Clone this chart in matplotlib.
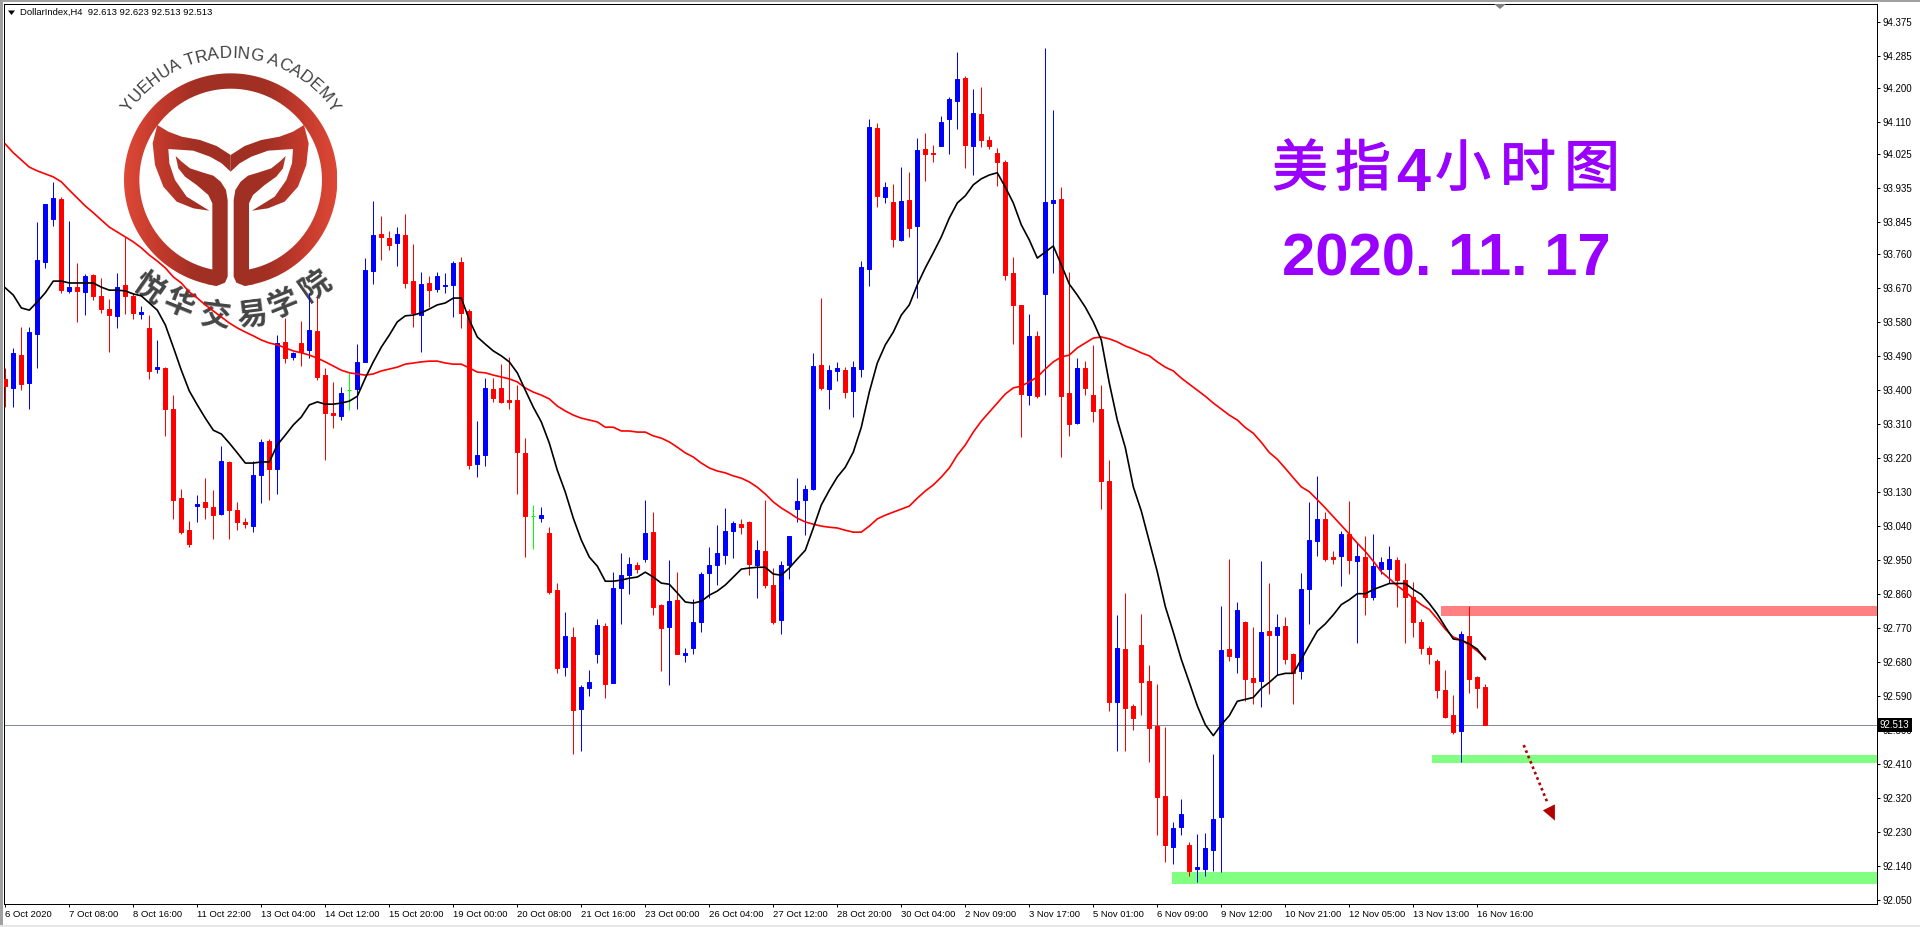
import numpy as np
import matplotlib
matplotlib.use('Agg')
import matplotlib.pyplot as plt
import matplotlib.patheffects as pe
from matplotlib.colors import LinearSegmentedColormap
from matplotlib.patches import Polygon, Rectangle
from matplotlib.path import Path
from matplotlib.transforms import Affine2D

# H4 candles
opens = [
    93.430,93.406,93.493,93.419,93.549,93.740,93.854,93.907,93.663,93.673,
    93.660,93.705,93.650,93.615,93.597,93.679,93.650,93.602,93.565,93.456,
    93.459,93.350,93.114,93.029,93.093,93.104,93.090,93.072,93.210,93.082,
    93.051,93.040,93.175,93.265,93.191,93.528,93.488,93.525,93.506,93.557,
    93.440,93.340,93.332,93.400,93.403,93.475,93.716,93.814,93.803,93.790,
    93.811,93.689,93.599,93.684,93.668,93.676,93.679,93.740,93.610,93.204,
    93.228,93.403,93.406,93.374,93.374,93.234,93.067,93.061,93.022,92.870,
    92.666,92.746,92.555,92.611,92.701,92.775,92.624,92.876,92.910,92.937,
    92.953,93.024,92.831,92.772,92.844,92.698,92.717,92.786,92.916,92.937,
    92.963,93.027,93.045,93.051,92.937,92.974,92.884,92.791,92.937,93.085,
    93.109,93.138,93.467,93.403,93.451,93.453,93.398,93.456,93.721,94.095,
    93.912,93.899,93.798,93.904,93.835,94.039,94.029,94.047,94.119,94.166,
    94.227,94.047,94.132,94.063,94.029,94.005,93.711,93.626,93.387,93.544,
    93.655,93.896,93.907,93.393,93.313,93.459,93.387,93.350,93.160,92.573,
    92.714,92.564,92.725,92.629,92.511,92.325,92.190,92.244,92.194,92.132,
    92.132,92.182,92.269,92.714,92.693,92.786,92.637,92.629,92.762,92.752,
    92.775,92.701,92.655,92.874,93.000,93.058,92.958,92.960,93.019,92.947,
    92.958,92.853,92.927,92.927,92.950,92.896,92.851,92.786,92.717,92.682,
    92.607,92.540,92.498,92.749,92.639,92.613]
closes = [
    93.411,93.499,93.416,93.554,93.745,93.893,93.909,93.665,93.673,93.663,
    93.703,93.650,93.615,93.599,93.673,93.650,93.605,93.607,93.451,93.461,
    93.350,93.109,93.024,92.992,93.098,93.090,93.069,93.212,93.082,93.051,
    93.045,93.175,93.263,93.191,93.525,93.485,93.499,93.501,93.559,93.435,
    93.340,93.334,93.393,93.400,93.475,93.718,93.811,93.806,93.785,93.814,
    93.684,93.605,93.681,93.665,93.703,93.679,93.737,93.605,93.202,93.228,
    93.406,93.379,93.369,93.369,93.236,93.067,93.067,93.069,92.865,92.664,
    92.749,92.552,92.613,92.627,92.778,92.621,92.876,92.910,92.939,92.926,
    93.022,92.825,92.770,92.841,92.701,92.704,92.786,92.913,92.937,92.969,
    93.027,93.048,93.037,92.939,92.976,92.884,92.786,92.937,93.014,93.106,
    93.138,93.464,93.406,93.453,93.459,93.395,93.461,93.726,94.097,93.915,
    93.938,93.801,93.901,93.830,94.036,94.026,94.026,94.111,94.172,94.225,
    94.050,94.135,94.063,94.047,94.005,93.705,93.626,93.390,93.544,93.384,
    93.899,93.904,93.384,93.310,93.459,93.406,93.345,93.160,92.573,92.717,
    92.559,92.532,92.626,92.506,92.322,92.194,92.241,92.278,92.126,92.137,
    92.187,92.263,92.712,92.696,92.819,92.634,92.626,92.759,92.752,92.773,
    92.687,92.650,92.874,93.003,93.058,92.952,92.952,93.019,92.950,92.960,
    92.851,92.935,92.944,92.952,92.896,92.851,92.786,92.717,92.701,92.607,
    92.535,92.495,92.754,92.634,92.610,92.513]
highs = [
    93.459,93.512,93.567,93.567,93.846,93.893,93.952,93.912,93.848,93.737,
    93.708,93.708,93.697,93.642,93.711,93.806,93.658,93.623,93.599,93.533,
    93.461,93.387,93.138,93.053,93.122,93.167,93.135,93.252,93.212,93.104,
    93.061,93.212,93.271,93.271,93.546,93.591,93.501,93.583,93.658,93.647,
    93.459,93.422,93.408,93.446,93.522,93.750,93.901,93.862,93.822,93.832,
    93.867,93.787,93.713,93.703,93.713,93.711,93.742,93.753,93.615,93.318,
    93.432,93.432,93.469,93.488,93.414,93.273,93.096,93.090,93.037,92.889,
    92.812,92.772,92.619,92.658,92.794,92.783,92.918,92.969,92.958,92.945,
    93.109,93.077,92.833,92.950,92.918,92.717,92.847,92.918,92.984,93.043,
    93.088,93.053,93.059,93.053,93.003,93.109,92.929,92.947,93.014,93.167,
    93.149,93.499,93.644,93.467,93.475,93.461,93.477,93.742,94.119,94.108,
    93.952,93.946,93.991,93.978,94.068,94.082,94.050,94.127,94.177,94.296,
    94.233,94.198,94.203,94.074,94.042,94.010,93.753,93.626,93.602,93.557,
    94.307,94.142,93.938,93.713,93.485,93.477,93.520,93.414,93.214,92.805,
    92.864,92.568,92.807,92.671,92.623,92.508,92.257,92.317,92.202,92.225,
    92.228,92.436,92.829,92.952,92.840,92.789,92.773,92.947,92.890,92.807,
    92.799,92.704,92.917,93.104,93.173,93.078,92.973,93.026,93.107,92.997,
    93.013,93.019,92.958,92.987,92.958,92.942,92.893,92.794,92.722,92.687,
    92.658,92.592,92.762,92.829,92.642,92.623]
lows = [
    93.355,93.355,93.400,93.350,93.459,93.724,93.835,93.658,93.658,93.581,
    93.599,93.639,93.605,93.501,93.565,93.602,93.589,93.589,93.430,93.446,
    93.279,93.059,93.019,92.984,93.051,93.059,93.006,93.069,93.006,93.029,
    93.035,93.024,93.101,93.109,93.125,93.472,93.480,93.464,93.485,93.427,
    93.215,93.300,93.321,93.347,93.350,93.475,93.681,93.745,93.771,93.729,
    93.671,93.567,93.501,93.620,93.660,93.658,93.594,93.565,93.191,93.170,
    93.199,93.369,93.366,93.350,93.125,92.958,92.979,93.051,92.860,92.651,
    92.643,92.436,92.444,92.590,92.677,92.584,92.624,92.780,92.860,92.916,
    92.945,92.804,92.656,92.619,92.701,92.680,92.701,92.759,92.849,92.884,
    92.939,92.955,93.019,92.910,92.849,92.876,92.780,92.754,92.900,93.051,
    93.016,93.135,93.400,93.350,93.424,93.379,93.329,93.435,93.676,93.885,
    93.896,93.779,93.795,93.806,93.644,93.954,94.005,94.047,94.026,94.092,
    93.989,93.970,94.044,94.039,93.941,93.692,93.522,93.276,93.361,93.379,
    93.387,93.711,93.223,93.279,93.310,93.387,93.316,93.086,92.551,92.445,
    92.445,92.500,92.540,92.415,92.223,92.150,92.145,92.223,92.113,92.097,
    92.113,92.126,92.124,92.684,92.650,92.576,92.570,92.561,92.594,92.645,
    92.674,92.570,92.634,92.781,92.960,92.947,92.939,92.882,92.914,92.730,
    92.805,92.845,92.914,92.888,92.827,92.730,92.746,92.701,92.676,92.584,
    92.532,92.490,92.415,92.599,92.557,92.513]

# moving averages
ma_fast = [
    93.671,93.652,93.618,93.612,93.634,93.658,93.689,93.689,93.684,93.684,
    93.684,93.684,93.673,93.665,93.665,93.663,93.655,93.650,93.631,93.612,
    93.573,93.514,93.453,93.398,93.361,93.326,93.294,93.284,93.260,93.234,
    93.207,93.207,93.210,93.210,93.255,93.281,93.308,93.329,93.361,93.369,
    93.363,93.363,93.366,93.371,93.384,93.432,93.475,93.514,93.546,93.581,
    93.597,93.599,93.605,93.615,93.626,93.631,93.644,93.644,93.586,93.541,
    93.522,93.504,93.491,93.475,93.446,93.400,93.355,93.316,93.260,93.188,
    93.130,93.061,93.003,92.958,92.934,92.894,92.894,92.897,92.902,92.905,
    92.918,92.905,92.889,92.886,92.863,92.839,92.836,92.841,92.857,92.868,
    92.884,92.905,92.926,92.929,92.931,92.931,92.913,92.910,92.929,92.953,
    92.976,93.035,93.096,93.135,93.170,93.196,93.236,93.302,93.395,93.472,
    93.520,93.554,93.599,93.626,93.679,93.724,93.764,93.806,93.856,93.896,
    93.915,93.944,93.960,93.970,93.976,93.938,93.896,93.838,93.798,93.750,
    93.766,93.782,93.732,93.681,93.652,93.620,93.581,93.533,93.419,93.321,
    93.248,93.144,93.080,93.000,92.919,92.827,92.759,92.687,92.626,92.564,
    92.514,92.485,92.514,92.538,92.576,92.581,92.586,92.610,92.626,92.645,
    92.650,92.650,92.687,92.725,92.762,92.781,92.805,92.832,92.845,92.861,
    92.861,92.872,92.880,92.888,92.888,92.888,92.872,92.859,92.835,92.807,
    92.773,92.741,92.738,92.728,92.714,92.687]
ma_slow = [
    94.052,94.029,94.010,93.991,93.981,93.973,93.965,93.952,93.930,93.909,
    93.888,93.870,93.851,93.832,93.819,93.806,93.793,93.777,93.758,93.742,
    93.724,93.700,93.684,93.660,93.644,93.626,93.610,93.594,93.578,93.565,
    93.554,93.544,93.533,93.525,93.520,93.512,93.504,93.499,93.493,93.485,
    93.475,93.464,93.453,93.446,93.443,93.440,93.443,93.451,93.456,93.461,
    93.469,93.472,93.475,93.477,93.477,93.472,93.469,93.469,93.459,93.448,
    93.446,93.440,93.435,93.430,93.422,93.406,93.395,93.387,93.377,93.358,
    93.345,93.334,93.326,93.321,93.316,93.302,93.302,93.292,93.292,93.289,
    93.289,93.279,93.273,93.263,93.249,93.234,93.223,93.207,93.194,93.186,
    93.181,93.173,93.167,93.157,93.143,93.125,93.104,93.088,93.075,93.061,
    93.051,93.045,93.040,93.037,93.035,93.029,93.024,93.024,93.040,93.059,
    93.069,93.077,93.085,93.093,93.114,93.133,93.149,93.170,93.194,93.228,
    93.255,93.289,93.318,93.342,93.366,93.390,93.406,93.411,93.422,93.435,
    93.456,93.475,93.488,93.493,93.512,93.525,93.538,93.541,93.536,93.528,
    93.517,93.509,93.499,93.491,93.475,93.461,93.451,93.432,93.416,93.400,
    93.384,93.366,93.350,93.334,93.321,93.301,93.286,93.262,93.235,93.217,
    93.193,93.168,93.144,93.131,93.110,93.088,93.065,93.042,93.019,92.995,
    92.973,92.947,92.919,92.901,92.882,92.866,92.848,92.832,92.819,92.794,
    92.767,92.746,92.738,92.725,92.709,92.691]

y_ticks = [94.375,94.285,94.200,94.110,94.025,93.935,93.845,93.760,93.670,93.580,
           93.490,93.400,93.310,93.220,93.130,93.040,92.950,92.860,92.770,92.680,
           92.590,92.500,92.410,92.320,92.230,92.140,92.050]
x_labels = ['6 Oct 2020','7 Oct 08:00','8 Oct 16:00','11 Oct 22:00','13 Oct 04:00','14 Oct 12:00',
            '15 Oct 20:00','19 Oct 00:00','20 Oct 08:00','21 Oct 16:00','23 Oct 00:00','26 Oct 04:00',
            '27 Oct 12:00','28 Oct 20:00','30 Oct 04:00','2 Nov 09:00','3 Nov 17:00','5 Nov 01:00',
            '6 Nov 09:00','9 Nov 12:00','10 Nov 21:00','12 Nov 05:00','13 Nov 13:00','16 Nov 16:00']
last_price = 92.513
# support / resistance boxes: first bar, low, high
zone_pink = (179.5, 92.802, 92.829)
zone_green1 = (178.3, 92.412, 92.433)
zone_green2 = (145.8, 92.091, 92.124)

W, H = 1920, 927
fig = plt.figure(figsize=(W/100, H/100), dpi=100, facecolor='white')
ax = fig.add_axes([4/W, 1-904/H, 1873/W, 900/H])
# reference pixels (y down) for the logo and window decorations
px = Affine2D().scale(1, -1).translate(0, H)
FONT = 'Liberation Sans'
CJK = ['Noto Sans CJK SC', 'DejaVu Sans']

# logo
def crop(pts):
    return [(x/3, y/3) for x, y in pts]

def mirror(pts):
    return [((2*692-x)/3, y/3) for x, y in pts]

cx, cy, R, r = 692, 540, 320, 274
t_out = np.radians(np.linspace(7.5, 352.5, 180))
t_in = np.radians(np.linspace(348.4, 11.6, 180))
ring = list(zip(cx-R*np.sin(t_out), cy+R*np.cos(t_out))) + list(zip(cx-r*np.sin(t_in), cy+r*np.cos(t_in)))
stem = [(527,468),(545,485),(570,505),(610,518),(640,527),(662,545),(678,570),(683,600),(683,830),
        (675,848),(650,858),(620,852),(637,808),(637,610),(625,585),(590,555),(555,530),(535,505)]
leaf = [(472,375),(505,395),(545,410),(600,420),(650,438),(692,465),(692,515),(665,490),(630,470),
        (580,452),(505,447),(508,490),(525,540),(560,590),(628,632),(580,625),(530,605),(490,560),
        (465,495),(458,430)]
logo_cmap = LinearSegmentedColormap.from_list('logo', ['#a03023', '#a23024', '#c23a2c', '#de4836'])
grad = np.abs(np.linspace(-1, 1, 256)).reshape(1, -1)
for shape in [crop(ring), crop(stem), mirror(stem), crop(leaf), mirror(leaf)]:
    im = ax.imshow(grad, extent=(124, 337, 286, 73), cmap=logo_cmap, aspect='auto', transform=px, zorder=1)
    im.set_clip_path(Path(shape + [shape[0]]), transform=px)

# english text on the arc
arc_text = 'YUEHUA TRADING ACADEMY'
adv = {'Y':.667,'U':.722,'E':.667,'H':.722,'A':.667,' ':.278,'T':.611,'R':.722,'D':.722,'I':.278,
       'N':.722,'G':.778,'C':.722,'M':.833}
arc_px = 17.0
arc_r = 122.0
total = sum(adv[c] for c in arc_text)*arc_px
pos = -total/2
for c in arc_text:
    w = adv[c]*arc_px
    a = (pos+w/2)/arc_r
    ax.text(230.5+arc_r*np.sin(a), 180-arc_r*np.cos(a), c, transform=px, family=FONT, fontsize=arc_px*0.72,
            color='#404040', rotation=-np.degrees(a), rotation_mode='anchor', ha='center', va='baseline', zorder=1)
    pos += w

logo_chars = ['悦', '华', '交', '易', '学', '院']
logo_char_x = [149, 179, 215, 252, 283, 315]
logo_char_y = [288, 304, 316, 316, 304, 285]
logo_char_rot = [-35, -22, -7, 7, 22, 35]
for c, x, y, rot in zip(logo_chars, logo_char_x, logo_char_y, logo_char_rot):
    ax.text(x, y, c, transform=px, family=CJK, fontsize=22, fontweight='bold', color='#454545',
            rotation=rot, rotation_mode='anchor', ha='center', va='center', zorder=1)

# zones
xlim = ((4-5.3)/8, (1877-5.3)/8)
for (start, lo, hi), col in zip([zone_pink, zone_green1, zone_green2], ['#ff8080', '#80ff80', '#80ff80']):
    ax.add_patch(Rectangle((start, lo), xlim[1]-start, hi-lo, facecolor=col, edgecolor='none', zorder=0.5))

ax.axhline(last_price, color='#808a99', lw=0.72, zorder=1.5)

# candles
n = len(opens)
xs = np.arange(n)
o = np.array(opens)
c = np.array(closes)
colors = np.where(c > o, '#0000ff', np.where(c < o, '#ff0000', '#00ff00'))
ax.vlines(xs, lows, highs, colors=colors, lw=0.72, zorder=3)
ax.bar(xs, c-o, bottom=o, width=0.5, color=colors, edgecolor=colors, linewidth=0.72, zorder=3)

ax.plot(xs, ma_slow, color='#ff0000', lw=1.2, zorder=4)
ax.plot(xs, ma_fast, color='#000000', lw=1.2, zorder=5)

# dotted down arrow
arrow_x = [189.8, 192.8]
arrow_y = [92.460, 92.306]
ax.plot(arrow_x, arrow_y, color='#b30000', lw=1.9, linestyle=(0, (1, 1.2)), zorder=4)
ax.add_patch(Polygon([(193.7, 92.260), (192.2, 92.287), (193.7, 92.303)], closed=True, facecolor='#b30000',
                     edgecolor='none', zorder=4))

ax.set_xlim(xlim)
ax.set_ylim(92.039, 94.423)

ax.yaxis.tick_right()
ax.set_yticks(y_ticks)
ax.set_yticklabels(['%.3f' % v for v in y_ticks], family=FONT)
ax.set_xticks(np.arange(0, 8*len(x_labels), 8))
ax.set_xticklabels(x_labels, family=FONT, ha='left')
ax.tick_params(axis='y', length=2, width=0.72, labelsize=7, pad=2)
ax.tick_params(axis='x', length=2, width=0.72, labelsize=6.8, pad=2)
for s in ax.spines.values():
    s.set_linewidth(0.72)
    s.set_color('black')

# current price box
ax.text(1.0015, last_price, '%.3f' % last_price, transform=ax.get_yaxis_transform(), color='white', family=FONT,
        fontsize=7, va='center', ha='left', clip_on=False, zorder=20,
        bbox=dict(boxstyle='square,pad=0.25', facecolor='black', edgecolor='black', linewidth=0))

# title words
title_chars = ['美', '指', '小', '时', '图']
title_x = [1300, 1363, 1463, 1528, 1592]
stroke = [pe.withStroke(linewidth=0.9, foreground='#9900ff')]
for ch, x in zip(title_chars, title_x):
    ax.text(x, 170, ch, transform=px, family=CJK, fontsize=40, color='#9900ff', ha='center', va='center',
            zorder=6, path_effects=stroke)
ax.text(1413, 191, '4', transform=px, family=FONT, fontsize=44, fontweight='bold', color='#9900ff',
        ha='center', va='baseline', zorder=6)
ax.text(1446, 275, '2020. 11. 17', transform=px, family=FONT, fontsize=43, fontweight='bold', color='#9900ff',
        ha='center', va='baseline', zorder=6)

# chart header
ax.text(20, 12.5, 'DollarIndex,H4  92.613 92.623 92.513 92.513', transform=px, family=FONT, fontsize=6.8,
        color='black', ha='left', va='center', zorder=6)
ax.add_patch(Polygon([(8, 10.5), (15, 10.5), (11.5, 15)], closed=True, transform=px, facecolor='black',
                     edgecolor='none', zorder=6))
ax.add_patch(Polygon([(1494, 4), (1506, 4), (1500, 9)], closed=True, transform=px, facecolor='#808080',
                     edgecolor='none', zorder=6))

# window edges
for rect, col in [((0, 0, W, 2), '#a0a0a0'), ((0, 0, 3, H), '#a0a0a0'), ((0, 925, W, 2), '#e6e6e6')]:
    fig.add_artist(Rectangle((rect[0], rect[1]), rect[2], rect[3], transform=px, facecolor=col, edgecolor='none'))

fig.savefig('out.png', dpi=100)
